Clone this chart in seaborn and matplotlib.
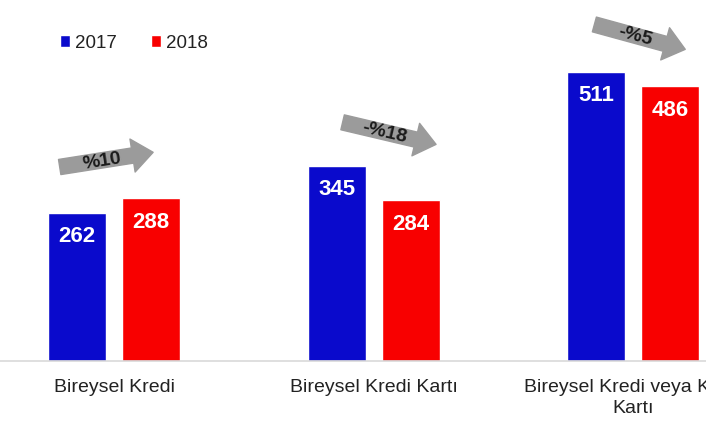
import numpy as np
import pandas as pd
import seaborn as sns
from matplotlib import pyplot as plt

kategoriler = ["Bireysel Kredi", "Bireysel Kredi Kartı", "Bireysel Kredi veya Kredi\nKartı"]
yillar = ["2017", "2018"]
degerler_2017 = [262, 345, 511]
degerler_2018 = [288, 284, 486]
degisim = ["%10", "-%18", "-%5"]

renkler = ["#0a0acc", "#f80000"]

df = pd.DataFrame({
    "kategori": kategoriler * 2,
    "yil": [yillar[0]] * 3 + [yillar[1]] * 3,
    "deger": degerler_2017 + degerler_2018,
})

sns.set_style("white")
plt.rcParams["font.family"] = ["Liberation Sans", "DejaVu Sans"]

fig = plt.figure(figsize=(7.06, 4.31), dpi=100)
ax = fig.add_axes([0, 0.160, 1, 0.840])

sns.barplot(
    data=df, x="kategori", y="deger", hue="yil", palette=renkler,
    width=0.57, gap=0.22, saturation=1, errorbar=None, ax=ax,
)

ax.set_xlim(-0.44, 2.28)
ax.set_ylim(0, 640)
ax.set_xlabel("")
ax.set_ylabel("")
ax.set_yticks([])
for side in ["top", "left", "right"]:
    ax.spines[side].set_visible(False)
ax.spines["bottom"].set_color("#d9d9d9")
ax.spines["bottom"].set_linewidth(1.2)
ax.tick_params(axis="x", length=0, pad=12, labelsize=14, labelcolor="#222222")
for lbl in ax.get_xticklabels():
    lbl.set_linespacing(1.3)

# value labels inside the bars
for cont in ax.containers:
    for p in cont:
        ax.annotate(
            f"{p.get_height():.0f}",
            (p.get_x() + p.get_width() / 2, p.get_height()),
            xytext=(0, -23), textcoords="offset pixels",
            ha="center", va="center", color="white",
            fontsize=16, fontweight="bold",
        )

# grey change arrows
maks = np.maximum(degerler_2017, degerler_2018)
oklar = [(-0.21, 55, 0.15, 81), (-0.12, 77, 0.24, 38), (-0.15, 84, 0.20, 40)]
for i, (txt, (dx0, dy0, dx1, dy1)) in enumerate(zip(degisim, oklar)):
    tail = (i + dx0, maks[i] + dy0)
    tip = (i + dx1, maks[i] + dy1)
    ax.annotate(
        "", xy=tip, xytext=tail,
        arrowprops=dict(
            arrowstyle="simple,head_length=1.5,head_width=2.4,tail_width=1.1",
            color="#9b9b9b", shrinkA=0, shrinkB=0,
        ),
    )
    p0 = ax.transData.transform(tail)
    p1 = ax.transData.transform(tip)
    ang = np.degrees(np.arctan2(p1[1] - p0[1], p1[0] - p0[0]))
    mid = p0 + 0.45 * (p1 - p0)
    mx, my = ax.transData.inverted().transform(mid)
    ax.text(mx, my, txt, rotation=ang, rotation_mode="anchor",
            ha="center", va="center", fontsize=14, fontweight="bold",
            color="#1a1a1a")

ax.legend(
    loc="center left", bbox_to_anchor=(60 / 706, 1 - 44 / 431),
    bbox_transform=fig.transFigure, ncol=2, frameon=False,
    fontsize=13.5, handlelength=0.55, handleheight=0.55, handletextpad=0.25,
    columnspacing=1.8, borderpad=0, borderaxespad=0,
    labelcolor="#222222",
)

fig.savefig("out.png", dpi=100, facecolor="white")
